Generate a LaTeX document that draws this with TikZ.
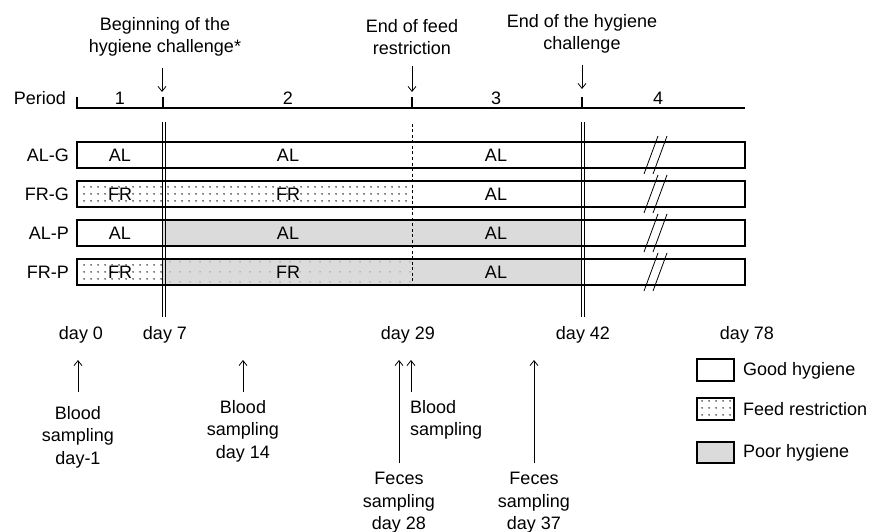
\documentclass[tikz,border=0pt]{standalone}
\usepackage{fontspec}
\setmainfont{Liberation Sans}
\usetikzlibrary{arrows.meta,patterns.meta}
\begin{document}
\begin{tikzpicture}[x=1pt,y=-1pt,
  txt/.style={font=\fontsize{18}{22.5}\selectfont, inner sep=0pt, align=center},
  bar/.style={draw=black, line width=1.6pt},
  thinarrow/.style={line width=0.8pt, -{Straight Barb[length=5pt,width=8pt,line width=0.8pt]}},
  dotsfill/.style={pattern={Dots[distance=6.5pt,radius=0.85pt]}, pattern color=black},
  sparsedots/.style={pattern={Dots[distance=10pt,radius=0.75pt]}, pattern color=black!40},
  poor/.style={fill=black!14},
  vline/.style={line width=0.8pt},
  slash/.style={line width=0.8pt}]
\useasboundingbox (0,0) rectangle (870,532);

% header texts
\node[txt] (beg) at (165,37) {Beginning of the\\hygiene challenge*};
\node[txt] (eff) at (412,37) {End of feed\\restriction};
\node[txt] (ehc) at (582,34) {End of the hygiene\\challenge};
\coordinate (begT) at (162,92);
\coordinate (effT) at (412,92);
\coordinate (ehcT) at (582,89);
\draw[thinarrow] (beg.south -| begT) ++(0,11) -- (begT);
\draw[thinarrow] (eff.south -| effT) ++(0,11) -- (effT);
\draw[thinarrow] (ehc.south -| ehcT) ++(0,11) -- (ehcT);

% period axis
\node[txt, anchor=east] (per) at (66,98) {Period};
\coordinate (ax0) at (77,108);
\coordinate (ax1) at (745,108);
\draw[line width=1.2pt] (77,97) -- (ax0) -- (ax1);
\foreach \x in {163,412,582} \draw[line width=1.2pt] (\x,97) -- (\x,108);
\node[txt] (p1) at (120,98) {1};
\node[txt] (p2) at (288,98) {2};
\node[txt] (p3) at (496,98) {3};
\node[txt] (p4) at (658,98) {4};

% fills
% FR-G
\fill[dotsfill] (77,181) rectangle (412,207);
% AL-P
\fill[poor] (163,220) rectangle (582,246);
% FR-P
\fill[dotsfill] (77,259) rectangle (163,285);
\fill[poor] (163,259) rectangle (582,285);
\fill[sparsedots] (163,259) rectangle (412,285);

% bars
\foreach \t in {142,181,220,259} {
  \draw[bar] (77,\t) rectangle (745,\t+26);
  \draw[slash] (644,\t+32) -- (658,\t-6);
  \draw[slash] (653,\t+32) -- (667,\t-6);
}

% dashed line
\draw[line width=0.6pt, dash pattern=on 3pt off 2.5pt] (412,124) -- (412,285);
% double lines
\draw[vline] (162,122) -- (162,317);
\draw[vline] (165,122) -- (165,317);
\draw[vline] (581,122) -- (581,317);
\draw[vline] (584,122) -- (584,317);

% row labels
\node[txt, anchor=east] (alg) at (69,155) {AL-G};
\node[txt, anchor=east] (frg) at (69,194) {FR-G};
\node[txt, anchor=east] (alp) at (69,233) {AL-P};
\node[txt, anchor=east] (frp) at (69,272) {FR-P};

% bar texts
\node[txt] (a1) at (120,155) {AL};
\node[txt] (a2) at (288,155) {AL};
\node[txt] (a3) at (496,155) {AL};
\node[txt] (b1) at (120,194) {FR};
\node[txt] (b2) at (288,194) {FR};
\node[txt] (b3) at (496,194) {AL};
\node[txt] (c1) at (120,233) {AL};
\node[txt] (c2) at (288,233) {AL};
\node[txt] (c3) at (496,233) {AL};
\node[txt] (d1) at (120,272) {FR};
\node[txt] (d2) at (288,272) {FR};
\node[txt] (d3) at (496,272) {AL};

% day labels
\node[txt] (d0) at (81,335) {day 0};
\node[txt] (d7) at (165,335) {day 7};
\node[txt] (d29) at (408,335) {day 29};
\node[txt] (d42) at (583,335) {day 42};
\node[txt] (d78) at (747,335) {day 78};

% sampling texts
\node[txt, anchor=north] (bs1) at (78,406) {Blood\\sampling\\day-1};
\node[txt, anchor=north] (bs14) at (243,400) {Blood\\sampling\\day 14};
\node[txt, anchor=north] (fs28) at (399,472) {Feces\\sampling\\day 28};
\node[txt, anchor=north west, align=left] (bs29) at (410,400) {Blood\\sampling};
\node[txt, anchor=north] (fs37) at (534,472) {Feces\\sampling\\day 37};
\coordinate (t1) at (78,360);
\coordinate (t14) at (243,360);
\coordinate (t28) at (399,360);
\coordinate (t29) at (411,360);
\coordinate (t37) at (534,360);
\draw[thinarrow] (78,392) -- (t1);
\draw[thinarrow] (243,392) -- (t14);
\draw[thinarrow] (399,463) -- (t28);
\draw[thinarrow] (411,392) -- (t29);
\draw[thinarrow] (534,463) -- (t37);

% legend
\draw[line width=1.2pt] (697,359) rectangle (734,381);
\fill[dotsfill] (697,398) rectangle (734,420);
\draw[line width=1.2pt] (697,398) rectangle (734,420);
\draw[line width=1.2pt, poor] (697,442) rectangle (734,463);
\node[txt, anchor=west] (lg1) at (743,371) {Good hygiene};
\node[txt, anchor=west] (lg2) at (743,409) {Feed restriction};
\node[txt, anchor=west] (lg3) at (743,453) {Poor hygiene};
\end{tikzpicture}
\end{document}
